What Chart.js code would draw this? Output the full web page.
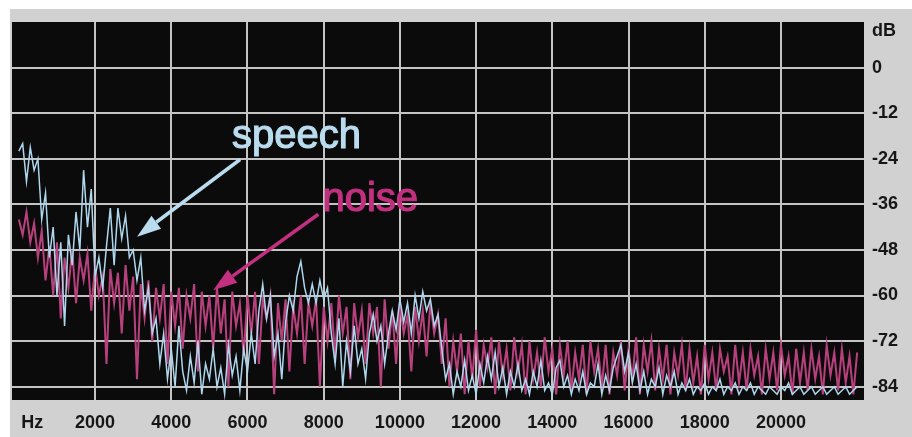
<!DOCTYPE html>
<html>
<head>
<meta charset="utf-8">
<script src="https://cdn.jsdelivr.net/npm/chart.js@4.4.1/dist/chart.umd.min.js"></script>
<style>
html, body { margin: 0; padding: 0; background: #fff; }
</style>
</head>
<body>
<canvas id="spectrum" width="912" height="437"></canvas>
<script>
// spectrum bins, one value every binHz
var binHz = 100;

var speechDb = [
  -22, -20, -30, -21, -27, -24, -40, -33, -50, -42,
  -60, -46, -68, -44, -52, -38, -48, -27, -42, -32,
  -55, -50, -58, -47, -37, -52, -37, -45, -39, -50,
  -48, -56, -50, -64, -58, -70, -66, -78, -70, -82,
  -74, -84, -68, -80, -85, -76, -83, -72, -86, -78,
  -82, -74, -84, -79, -86, -73, -81, -76, -85, -74,
  -80, -70, -78, -64, -57, -66, -60, -76, -70, -82,
  -67, -60, -64, -55, -51, -58, -62, -57, -62, -56,
  -61, -58, -70, -78, -66, -84, -72, -80, -68, -78,
  -74, -82, -70, -65, -72, -68, -78, -70, -64, -69,
  -61, -67, -62, -70, -60, -66, -59, -64, -61, -68,
  -65, -74, -82, -78, -86, -80, -84, -77, -85, -81,
  -86, -78, -83, -76, -82, -75, -84, -79, -86, -80,
  -84, -78, -85, -82, -86, -80, -84, -77, -85, -83,
  -86, -79, -77, -84, -81, -86, -82, -85, -80, -86,
  -83, -84, -78, -86, -81, -85, -79, -76, -73, -80,
  -75, -83, -78, -85, -80, -86, -82, -84, -79, -86,
  -81, -84, -80, -86, -83, -85, -82, -86, -84, -85,
  -83, -86, -84, -85, -82, -86, -84, -85, -83, -86,
  -84, -85, -83, -86, -84, -85, -86, -84, -85, -86,
  -84, -85, -83, -86, -85, -84, -86, -85, -84, -86,
  -85, -84, -86, -85, -84, -86, -85, -84, -86, -85, -84
];

var noiseDb = [
  -40, -44, -38, -46, -41, -50, -43, -56, -47, -60,
  -46, -66, -50, -58, -48, -62, -50, -56, -49, -64,
  -52, -60, -55, -78, -53, -62, -54, -70, -52, -64,
  -55, -82, -57, -66, -56, -72, -58, -66, -57, -78,
  -59, -68, -58, -74, -60, -66, -57, -80, -59, -68,
  -60, -74, -58, -70, -61, -84, -59, -68, -62, -76,
  -60, -70, -59, -78, -61, -66, -60, -86, -62, -72,
  -61, -80, -63, -70, -60, -78, -62, -68, -61, -84,
  -63, -72, -62, -76, -60, -70, -63, -82, -62, -71,
  -64, -78, -62, -70, -63, -84, -61, -74, -64, -78,
  -62, -70, -65, -80, -63, -72, -64, -76, -62, -70,
  -65, -78, -66, -84, -72, -80, -70, -86, -72, -82,
  -69, -84, -73, -79, -71, -86, -72, -81, -74, -85,
  -71, -80, -73, -86, -72, -82, -75, -84, -71, -80,
  -74, -86, -73, -81, -72, -85, -75, -82, -73, -86,
  -72, -80, -74, -84, -73, -86, -75, -81, -72, -85,
  -74, -82, -71, -86, -73, -80, -72, -85, -74, -82,
  -73, -86, -75, -81, -73, -85, -74, -83, -76, -86,
  -73, -82, -75, -85, -74, -80, -76, -86, -73, -83,
  -75, -85, -74, -81, -76, -86, -74, -82, -75, -85,
  -73, -81, -76, -86, -74, -83, -75, -85, -74, -82,
  -76, -86, -73, -81, -75, -85, -74, -83, -76, -86, -75
];

var freqTicks = [350, 2000, 4000, 6000, 8000, 10000, 12000, 14000, 16000, 18000, 20000];
var freqLabels = ['Hz', '2000', '4000', '6000', '8000', '10000', '12000', '14000', '16000', '18000', '20000'];
var dbTicks = [9.5, 0, -12, -24, -36, -48, -60, -72, -84];
var dbLabels = ['dB', '0', '-12', '-24', '-36', '-48', '-60', '-72', '-84'];

// annotation texts and arrows, in Hz / dB
var notes = ['speech', 'noise'];
var noteColors = ['#b9dcee', '#c2307f'];
var noteAt = [[5596, -21.1], [7966, -37.8]];
var arrowFrom = [[5806, -24.2], [7860, -38.6]];
var arrowTo = [[3102, -44.5], [5097, -58.6]];

function toPoints(vals) {
  return vals.map(function (v, i) { return { x: i * binHz, y: v }; });
}

var backdrop = {
  id: 'backdrop',
  beforeDraw: function (chart) {
    var c = chart.ctx, a = chart.chartArea;
    c.save();
    c.fillStyle = '#ffffff';
    c.fillRect(0, 0, chart.width, chart.height);
    c.fillStyle = '#d1d1d1';
    c.fillRect(10, 9, chart.width - 10, chart.height - 9);
    c.fillStyle = '#0b0b0b';
    c.fillRect(a.left, a.top, a.right - a.left, a.bottom - a.top);
    c.restore();
  }
};

var arrows = {
  id: 'arrows',
  afterDatasetsDraw: function (chart) {
    var c = chart.ctx, sx = chart.scales.x, sy = chart.scales.y;
    c.save();
    for (var i = 0; i < notes.length; i++) {
      var x0 = sx.getPixelForValue(arrowFrom[i][0]), y0 = sy.getPixelForValue(arrowFrom[i][1]);
      var x1 = sx.getPixelForValue(arrowTo[i][0]), y1 = sy.getPixelForValue(arrowTo[i][1]);
      var ang = Math.atan2(y1 - y0, x1 - x0);
      var len = 24, half = 8;
      var bx = x1 - len * Math.cos(ang), by = y1 - len * Math.sin(ang);
      c.strokeStyle = noteColors[i];
      c.fillStyle = noteColors[i];
      c.lineWidth = 3.5;
      c.beginPath();
      c.moveTo(x0, y0);
      c.lineTo(bx, by);
      c.stroke();
      c.beginPath();
      c.moveTo(x1, y1);
      c.lineTo(bx + half * Math.sin(ang), by - half * Math.cos(ang));
      c.lineTo(bx - half * Math.sin(ang), by + half * Math.cos(ang));
      c.closePath();
      c.fill();
      c.font = '40px "Liberation Sans", Arial, sans-serif';
      c.textBaseline = 'alphabetic';
      c.textAlign = 'left';
      c.lineWidth = 1.2;
      var tx = sx.getPixelForValue(noteAt[i][0]), ty = sy.getPixelForValue(noteAt[i][1]);
      c.fillText(notes[i], tx, ty);
      c.strokeText(notes[i], tx, ty);
    }
    c.restore();
  }
};

var tickFont = { family: '"Liberation Sans", Arial, sans-serif', size: 18, weight: 'bold' };

var spectrumChart = new Chart(document.getElementById('spectrum'), {
  type: 'line',
  data: {
    datasets: [{
      label: 'speech',
      data: toPoints(speechDb),
      borderColor: '#aed6ec',
      borderWidth: 1.5,
      pointRadius: 0,
      tension: 0
    }, {
      label: 'noise',
      data: toPoints(noiseDb),
      borderColor: '#b8417d',
      borderWidth: 2,
      pointRadius: 0,
      tension: 0
    }]
  },
  options: {
    responsive: false,
    animation: false,
    layout: { padding: { left: 12, top: 22, right: 0, bottom: 0 } },
    plugins: { legend: { display: false }, tooltip: { enabled: false } },
    scales: {
      x: {
        type: 'linear',
        position: 'bottom',
        min: -180,
        max: 22180,
        afterBuildTicks: function (s) { s.ticks = freqTicks.map(function (v) { return { value: v }; }); },
        afterFit: function (s) { s.height = 37; s.paddingLeft = 0; s.paddingRight = 0; },
        ticks: {
          autoSkip: false,
          maxRotation: 0,
          padding: 12,
          color: '#161616',
          font: tickFont,
          callback: function (v, i) { return freqLabels[i]; }
        },
        grid: {
          drawTicks: false,
          lineWidth: 2,
          color: function (ctx) { return ctx.tick && ctx.tick.value === freqTicks[0] ? 'rgba(0,0,0,0)' : '#c4c4c4'; }
        },
        border: { display: false }
      },
      y: {
        position: 'right',
        min: -87.5,
        max: 12,
        afterBuildTicks: function (s) { s.ticks = dbTicks.map(function (v) { return { value: v }; }); },
        afterFit: function (s) { s.width = 48; s.paddingTop = 0; s.paddingBottom = 0; },
        ticks: {
          autoSkip: false,
          padding: 8,
          color: '#161616',
          font: tickFont,
          callback: function (v, i) { return dbLabels[i]; }
        },
        grid: {
          drawTicks: false,
          lineWidth: 2,
          color: function (ctx) { return ctx.tick && ctx.tick.value === dbTicks[0] ? 'rgba(0,0,0,0)' : '#c4c4c4'; }
        },
        border: { display: false }
      }
    }
  },
  plugins: [backdrop, arrows]
});
</script>
</body>
</html>
